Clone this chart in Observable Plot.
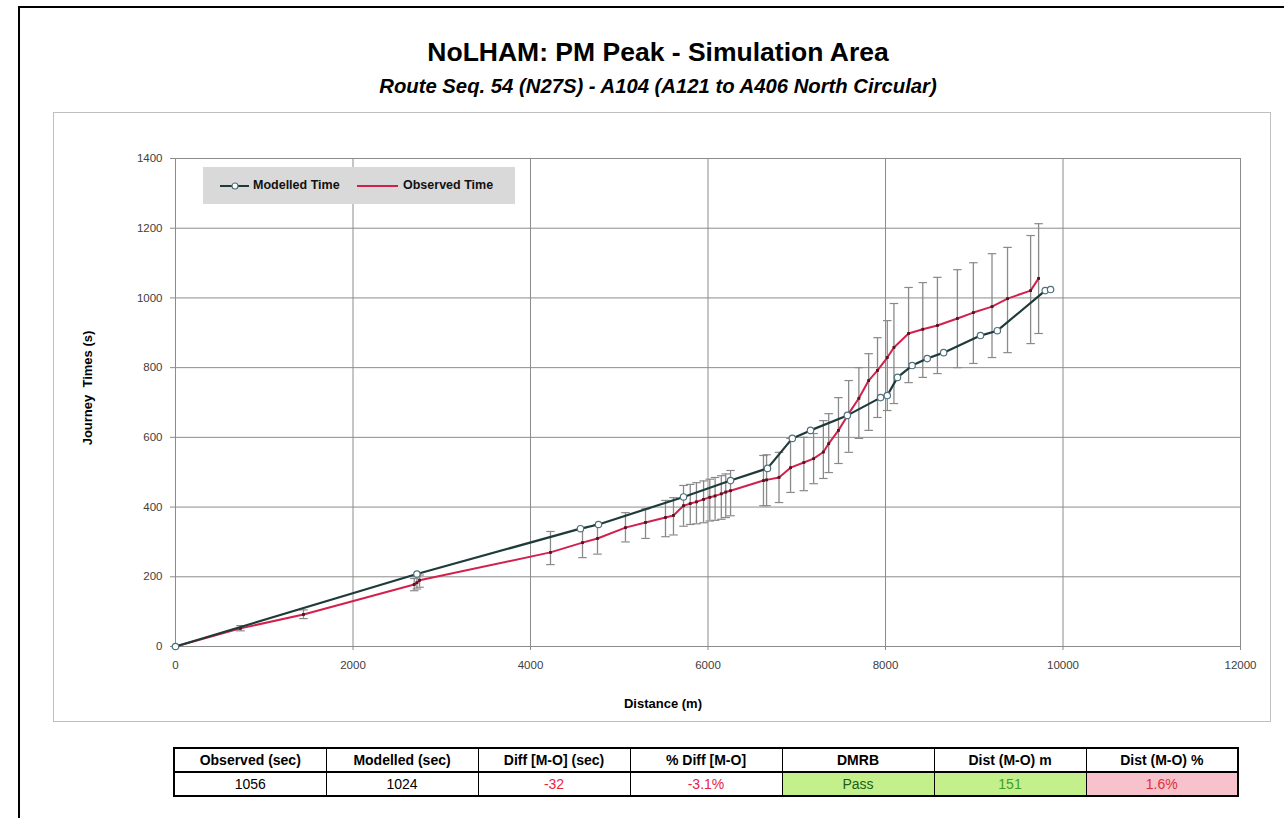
<!DOCTYPE html>
<html>
<head>
<meta charset="utf-8">
<script src="https://cdn.jsdelivr.net/npm/d3@7"></script>
<script src="https://cdn.jsdelivr.net/npm/@observablehq/plot@0.6"></script>
<style>
  html, body { margin: 0; padding: 0; background: #fff; }
  body { width: 1284px; height: 818px; position: relative; overflow: hidden; font-family: "Liberation Sans", Arial, sans-serif; }
  .abs { position: absolute; }
  #title { left: 0; width: 1316px; top: 36px; text-align: center; font-size: 26.5px; font-weight: bold; color: #000; line-height: 32px; }
  #subtitle { left: 0; width: 1316px; top: 74px; text-align: center; font-size: 20.3px; font-weight: bold; font-style: italic; color: #000; line-height: 24px; }
  #chart { left: 0; top: 120px; }
  #ylabel { left: 87px; top: 388px; transform: translate(-50%, -50%) rotate(-90deg); font-size: 13px; font-weight: bold; white-space: pre; color: #000; font-family: "Liberation Sans Narrow", "Liberation Sans", Arial, sans-serif; }
  #xlabel { left: 663px; top: 703px; transform: translate(-50%, -50%); font-size: 13px; font-weight: bold; color: #000; font-family: "Liberation Sans Narrow", "Liberation Sans", Arial, sans-serif; }
  #legend { left: 203px; top: 167px; width: 312px; height: 37px; background: #d9d9d9; font-size: 12.5px; font-weight: bold; color: #111; }
  #legend .item { position: absolute; top: 11px; white-space: nowrap; }
  #legend svg { position: absolute; top: 12px; }
  table { position: absolute; left: 173px; top: 747px; width: 1066px; border-collapse: collapse; border: 2px solid #000; table-layout: fixed; }
  td, th { border: 1px solid #000; text-align: center; font-size: 14px; height: 22px; padding: 0; font-family: "Liberation Sans", Arial, sans-serif; }
  th { font-weight: bold; border-bottom: 2px solid #000; }
  td { font-weight: normal; }
</style>
</head>
<body>
<div class="abs" style="left:18px;top:6px;width:1266px;height:2px;background:#000"></div>
<div class="abs" style="left:18px;top:6px;width:2px;height:812px;background:#000"></div>
<div class="abs" style="left:53px;top:112px;width:1218px;height:610px;border:1px solid #bfbfbf;box-sizing:border-box"></div>
<div id="title" class="abs">NoLHAM: PM Peak - Simulation Area</div>
<div id="subtitle" class="abs">Route Seq. 54 (N27S) - A104 (A121 to A406 North Circular)</div>
<div id="chart" class="abs"></div>
<div id="ylabel" class="abs">Journey  Times (s)</div>
<div id="xlabel" class="abs">Distance (m)</div>
<div id="legend" class="abs"></div>
<div id="tablewrap"></div>
<script>
// ---- Data ----
const obsDist = [0, 732, 1442, 2690, 2720, 2750, 4225, 4586, 4755, 5070, 5296, 5521, 5611, 5724, 5800, 5870, 5950, 6020, 6080, 6150, 6200, 6254, 6625, 6660, 6800, 6930, 7080, 7190, 7300, 7360, 7470, 7585, 7700, 7810, 7910, 8020, 8095, 8260, 8420, 8585, 8810, 8990, 9200, 9375, 9635, 9725];
const obsTime = [0, 52, 92, 178, 183, 190, 270, 298, 310, 341, 356, 370, 376, 404, 410, 415, 422, 428, 432, 438, 443, 447, 476, 478, 485, 513, 528, 539, 558, 582, 620, 668, 712, 763, 792, 829, 858, 898, 910, 921, 941, 958, 975, 998, 1021, 1056];
const obsLow  = [0, 45, 80, 160, 165, 170, 235, 255, 265, 300, 310, 315, 320, 345, 350, 352, 355, 360, 362, 365, 370, 375, 404, 404, 413, 442, 447, 467, 482, 499, 525, 557, 597, 620, 657, 677, 697, 757, 772, 783, 800, 812, 829, 843, 869, 898];
const obsHigh = [0, 60, 105, 195, 200, 205, 330, 340, 350, 384, 395, 419, 427, 462, 465, 470, 475, 480, 485, 490, 495, 505, 548, 550, 557, 597, 600, 611, 648, 668, 714, 763, 800, 840, 886, 935, 984, 1030, 1044, 1059, 1081, 1101, 1127, 1145, 1179, 1213];

const modDist = [0, 2720, 4563, 4766, 5724, 6254, 6670, 6950, 7155, 7570, 7945, 8020, 8135, 8300, 8470, 8655, 9070, 9260, 9800, 9860];
const modTime = [0, 208, 338, 350, 429, 476, 511, 597, 620, 663, 714, 720, 772, 806, 826, 843, 892, 906, 1021, 1024];

const xTicks = [0, 2000, 4000, 6000, 8000, 10000, 12000];
const yTicks = [0, 200, 400, 600, 800, 1000, 1200, 1400];

const seriesNames = ["Modelled Time", "Observed Time"];

const tableHeaders = ["Observed (sec)", "Modelled (sec)", "Diff [M-O] (sec)", "% Diff [M-O]", "DMRB", "Dist (M-O) m", "Dist (M-O) %"];
const tableValues  = ["1056", "1024", "-32", "-3.1%", "Pass", "151", "1.6%"];

// ---- Build tables for Plot ----
const obs = obsDist.map((d, i) => ({d, t: obsTime[i], lo: obsLow[i], hi: obsHigh[i]}));
const mod = modDist.map((d, i) => ({d, t: modTime[i]}));

const modColor = "#1e3b3a";
const obsColor = "#d2204c";
const errColor = "#8a8a8a";

const cap = { draw(ctx, size) { const w = Math.sqrt(size); ctx.moveTo(-w, 0); ctx.lineTo(w, 0); } };

const chart = Plot.plot({
  width: 1284,
  height: 620,
  marginLeft: 175,
  marginRight: 44,
  marginTop: 38,
  marginBottom: 94,
  style: { fontFamily: "'Liberation Sans Narrow', 'Liberation Sans', Arial, sans-serif", fontSize: "11.5px", color: "#404040", background: "transparent" },
  x: { domain: [0, 12000], ticks: xTicks, label: null },
  y: { domain: [0, 1400], ticks: yTicks, label: null },
  marks: [
    Plot.gridX(xTicks, { stroke: "#8c8c8c", strokeOpacity: 1, strokeWidth: 1 }),
    Plot.gridY(yTicks, { stroke: "#8c8c8c", strokeOpacity: 1, strokeWidth: 1 }),
    Plot.ruleX([0], { stroke: "#8c8c8c" }),
    Plot.ruleY([0], { stroke: "#8c8c8c" }),
    Plot.axisX(xTicks, { tickSize: 4, tickPadding: 10, stroke: "#8c8c8c", fill: "#404040", tickFormat: d => String(d), label: null }),
    Plot.axisY(yTicks, { tickSize: 5, tickPadding: 8, stroke: "#8c8c8c", fill: "#404040", tickFormat: d => String(d), label: null }),
    Plot.ruleX(obs, { x: "d", y1: "lo", y2: "hi", stroke: errColor, strokeWidth: 1.3 }),
    Plot.dot(obs, { x: "d", y: "lo", symbol: cap, r: 2.4, stroke: errColor, fill: "none", strokeWidth: 1.2 }),
    Plot.dot(obs, { x: "d", y: "hi", symbol: cap, r: 2.4, stroke: errColor, fill: "none", strokeWidth: 1.2 }),
    Plot.line(obs, { x: "d", y: "t", stroke: obsColor, strokeWidth: 2 }),
    Plot.dot(obs, { x: "d", y: "t", symbol: "square", r: 1.6, fill: "#5a1222", stroke: "none" }),
    Plot.line(mod, { x: "d", y: "t", stroke: modColor, strokeWidth: 2.2 }),
    Plot.dot(mod, { x: "d", y: "t", r: 3.2, fill: "#ffffff", stroke: "#50707e", strokeWidth: 1.2 })
  ]
});
document.getElementById("chart").appendChild(chart);

// ---- Legend ----
const legend = document.getElementById("legend");
legend.innerHTML = `
  <svg width="40" height="14" style="left:15px"><line x1="2" y1="7" x2="31" y2="7" stroke="${modColor}" stroke-width="2"/><circle cx="17" cy="7" r="3" fill="#fff" stroke="#50707e" stroke-width="1.2"/></svg>
  <div class="item" style="left:50px">${seriesNames[0]}</div>
  <svg width="45" height="14" style="left:153px"><line x1="1" y1="7" x2="42" y2="7" stroke="${obsColor}" stroke-width="2"/></svg>
  <div class="item" style="left:200px">${seriesNames[1]}</div>`;

// ---- Table ----
const styles = [
  "color:#000", "color:#000", "color:#e8243f", "color:#e8243f",
  "color:#1f5c1a;background:#c3f08a", "color:#3d9e2a;background:#c3f08a", "color:#e0303a;background:#f7c2cb"
];
const tbl = document.createElement("table");
tbl.innerHTML = "<tr>" + tableHeaders.map(h => `<th>${h}</th>`).join("") + "</tr>" +
  "<tr>" + tableValues.map((v, i) => `<td style="${styles[i]}">${v}</td>`).join("") + "</tr>";
document.getElementById("tablewrap").appendChild(tbl);
</script>
</body>
</html>
